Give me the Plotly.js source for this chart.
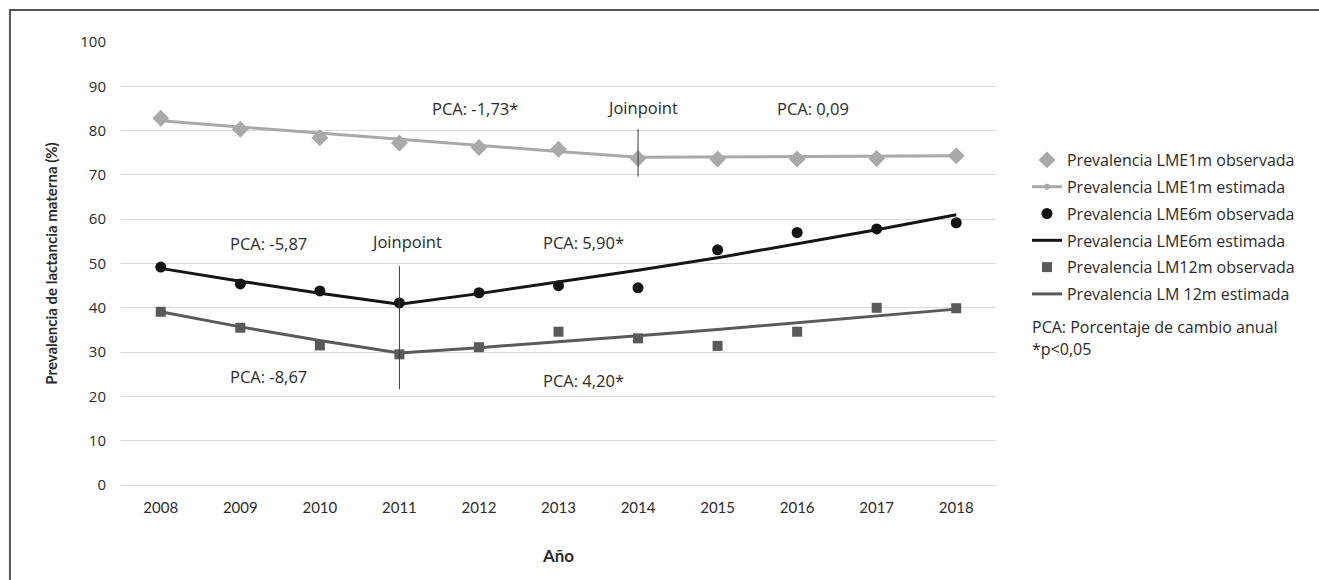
<!DOCTYPE html>
<html>
<head>
<meta charset="utf-8">
<script src="https://cdn.plot.ly/plotly-3.0.1.min.js"></script>
<style>html,body{margin:0;padding:0;background:#fff;}#chart{width:1319px;height:580px;}</style>
</head>
<body>
<div id="chart"></div>
<script>
const years = [2008, 2009, 2010, 2011, 2012, 2013, 2014, 2015, 2016, 2017, 2018];
const lme1Obs = [82.8, 80.3, 78.4, 77.2, 76.2, 75.8, 73.7, 73.6, 73.6, 73.7, 74.3];
const lme1Est = [82.2, 80.8, 79.4, 78.0, 76.7, 75.3, 74.0, 74.1, 74.2, 74.2, 74.3];
const lme6Obs = [49.2, 45.4, 43.8, 41.1, 43.4, 45.0, 44.5, 53.1, 57.0, 57.8, 59.2];
const lme6Est = [48.9, 46.0, 43.3, 40.8, 43.2, 45.8, 48.5, 51.3, 54.4, 57.6, 61.0];
const lm12Obs = [39.1, 35.5, 31.5, 29.5, 31.1, 34.6, 33.1, 31.4, 34.6, 40.0, 39.9];
const lm12Est = [39.1, 35.7, 32.6, 29.8, 31.0, 32.3, 33.7, 35.1, 36.6, 38.1, 39.7];

const joinYears = [2011, 2014];
const joinLow = [21.6, 69.6];
const joinHigh = [49.4, 80.4];

const noteTexts = ['PCA: -1,73*', 'Joinpoint', 'PCA: 0,09', 'PCA: -5,87', 'Joinpoint', 'PCA: 5,90*', 'PCA: -8,67', 'PCA: 4,20*'];
const noteX = [2011.95, 2014.06, 2016.2, 2009.35, 2011.09, 2013.31, 2009.35, 2013.31];
const noteY = [85.1, 85.2, 84.9, 54.6, 54.9, 54.8, 24.6, 23.7];

const legendNotes = ['PCA: Porcentaje de cambio anual', '*p<0,05'];

const FONT = '"Open Sans", Lato, sans-serif';
const TICKX = 'Lato, "Open Sans", sans-serif';

const cLight = '#a9a9a9';
const cBlack = '#141414';
const cDark = '#5a5a5a';
const cText = '#2b2b2b';

const traces = [
  {x: years, y: lme1Est, name: 'Prevalencia LME1m estimada', mode: 'lines+markers', legendrank: 2, legendgroup: 'b',
   line: {color: cLight, width: 3}, marker: {color: cLight, size: 6, symbol: 'circle'}},
  {x: years, y: lme1Obs, name: 'Prevalencia LME1m observada', mode: 'markers', legendrank: 1, legendgroup: 'a',
   marker: {color: cLight, size: 13, symbol: 'diamond'}},
  {x: years, y: lme6Est, name: 'Prevalencia LME6m estimada', mode: 'lines', legendrank: 4, legendgroup: 'd',
   line: {color: cBlack, width: 3}},
  {x: years, y: lme6Obs, name: 'Prevalencia LME6m observada', mode: 'markers', legendrank: 3, legendgroup: 'c',
   marker: {color: cBlack, size: 11, symbol: 'circle'}},
  {x: years, y: lm12Est, name: 'Prevalencia LM 12m estimada', mode: 'lines', legendrank: 6, legendgroup: 'f',
   line: {color: cDark, width: 3}},
  {x: years, y: lm12Obs, name: 'Prevalencia LM12m observada', mode: 'markers', legendrank: 5, legendgroup: 'e',
   marker: {color: cDark, size: 10, symbol: 'square'}}
];

const shapes = joinYears.map((yr, i) => ({
  type: 'line', xref: 'x', yref: 'y', x0: yr, x1: yr, y0: joinLow[i], y1: joinHigh[i],
  line: {color: '#3a3a3a', width: 1}
}));
shapes.push({type: 'rect', xref: 'paper', yref: 'paper', x0: -0.1269, x1: 1.6, y0: -0.4, y1: 1.0722,
  line: {color: '#555555', width: 2}, fillcolor: 'rgba(0,0,0,0)', layer: 'below'});

const annotations = noteTexts.map((t, i) => ({
  x: noteX[i], y: noteY[i], xref: 'x', yref: 'y', text: t, showarrow: false,
  font: {family: FONT, size: 16.5, color: cText}, xanchor: 'center', yanchor: 'middle'
}));
const legNoteY = [0.3567, 0.307];
legendNotes.forEach((t, i) => annotations.push({
  x: 1.039, y: legNoteY[i], xref: 'paper', yref: 'paper', text: t, showarrow: false,
  font: {family: FONT, size: 16, color: cText}, xanchor: 'left', yanchor: 'middle'
}));

const layout = {
  width: 1319, height: 580,
  margin: {l: 121, r: 323, t: 42, b: 95},
  paper_bgcolor: '#ffffff', plot_bgcolor: '#ffffff',
  font: {family: FONT, size: 14, color: cText},
  showlegend: true,
  legend: {x: 1.0354, y: 0.772, xanchor: 'left', yanchor: 'top', font: {family: FONT, size: 16, color: cText},
           tracegroupgap: 3, traceorder: 'grouped', bgcolor: 'rgba(0,0,0,0)'},
  xaxis: {range: [2007.5, 2018.5], tickvals: years, ticktext: years.map(String), showgrid: false, zeroline: false,
          showline: false, ticks: '', ticklabelstandoff: 12,
          tickfont: {family: TICKX, size: 15, color: cText},
          title: {text: '<b>Año</b>', standoff: 35, font: {family: TICKX, size: 17, color: cText}}},
  yaxis: {range: [0, 100], dtick: 10, showgrid: true, gridcolor: '#d9d9d9', gridwidth: 1, zeroline: true,
          zerolinecolor: '#d9d9d9', zerolinewidth: 1, showline: false, ticks: '', ticklabelstandoff: 14,
          tickfont: {family: FONT, size: 15, color: cText},
          title: {text: '<b>Prevalencia de lactancia materna (%)</b>', standoff: 19, font: {family: TICKX, size: 15, color: cText}}},
  shapes: shapes,
  annotations: annotations
};

Plotly.newPlot('chart', traces, layout, {displayModeBar: false, staticPlot: true});
</script>
</body>
</html>
